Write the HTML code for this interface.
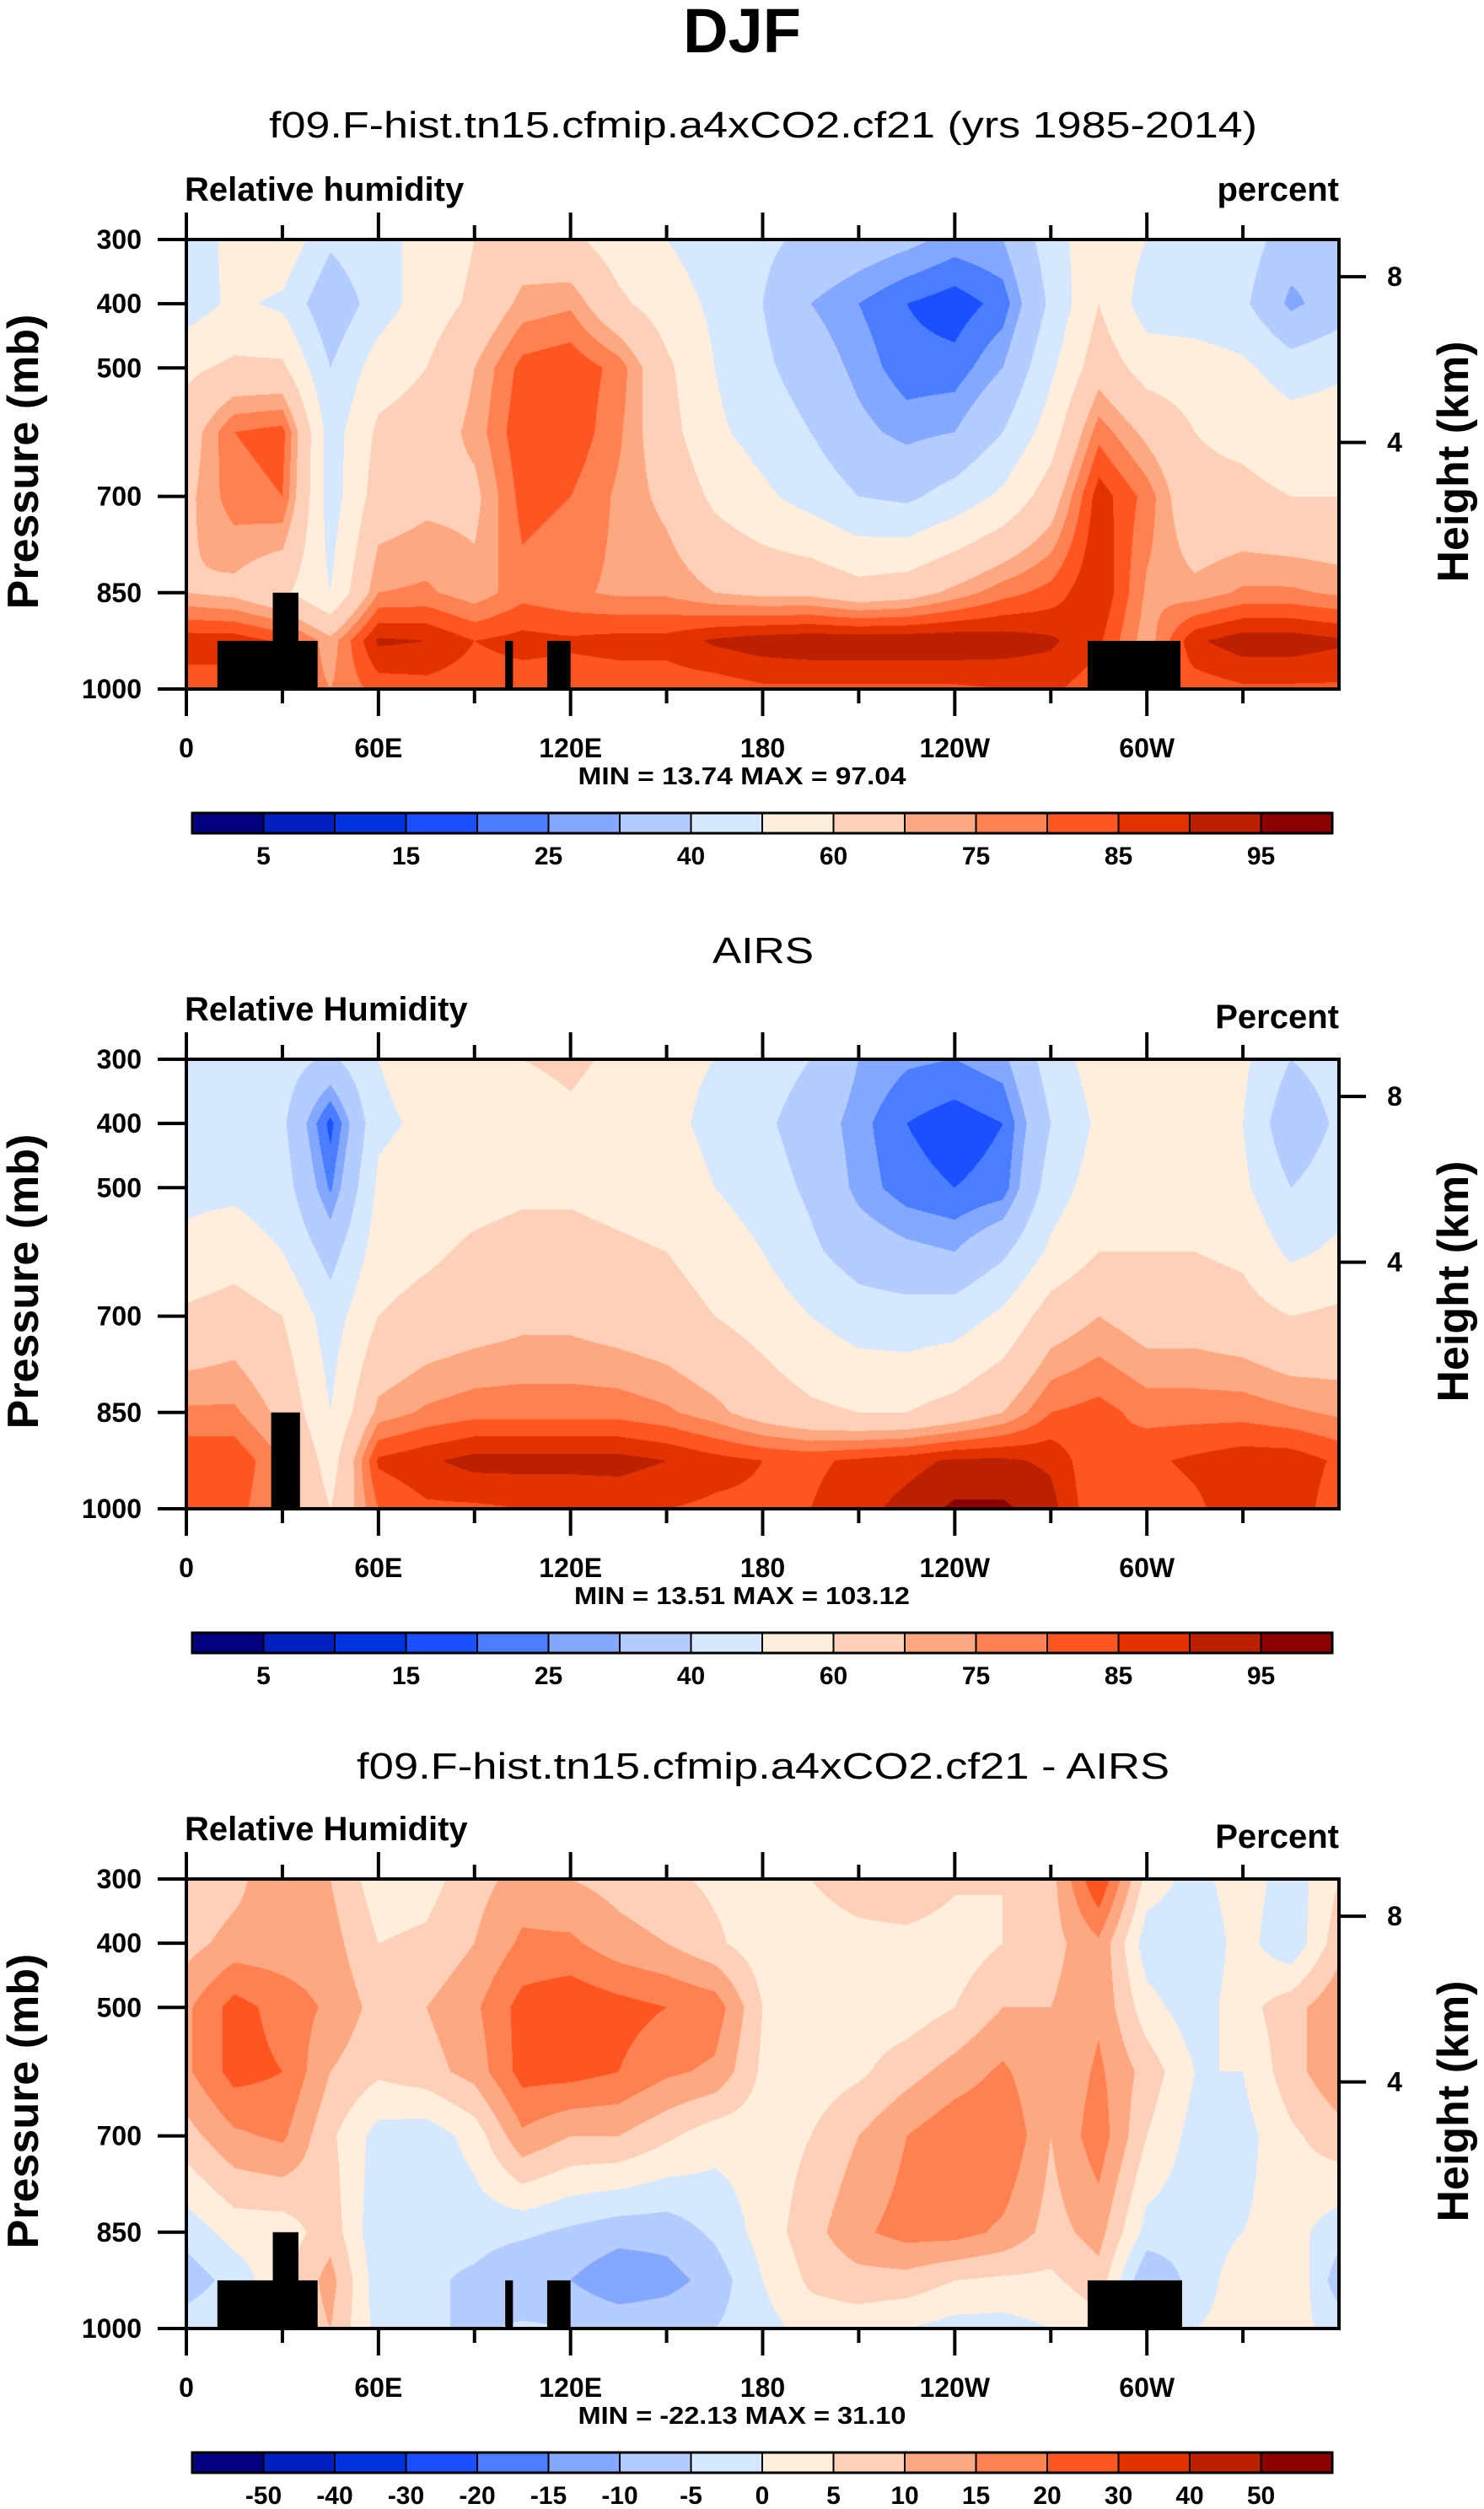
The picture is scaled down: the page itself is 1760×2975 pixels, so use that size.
<!DOCTYPE html>
<html><head><meta charset="utf-8">
<style>
html,body{margin:0;padding:0;background:#fff;}
#wrap{position:relative;width:1760px;height:2975px;overflow:hidden;background:#fff;}
canvas{position:absolute;}
svg{position:absolute;left:0;top:0;}
text{font-family:"Liberation Sans",sans-serif;fill:#000;}
</style></head>
<body>
<div id="wrap">
<svg id="svg" width="1760" height="2975"></svg>
</div>
<script>
// ---- data ----
const lons = [0,15,30,45,60,75,90,105,120,135,150,165,180,195,210,225,240,255,270,285,300,315,330,345,360];
const pLevels = [300,400,500,600,700,850,925,1000];
const modelRH = [
[40,45,58,65,68,70,88,82],[55,52,62,80,78,68,88,82],[58,48,62,82,80,62,84,80],[42,32,40,45,45,50,72,75],
[48,45,55,62,65,75,91,82],[52,55,60,65,68,76,90,83],[60,62,70,72,68,72,85,82],[65,72,82,84,82,78,87,82],
[62,74,84,84,80,76,86,82],[55,62,78,76,74,74,87,82],[50,55,62,64,68,74,87,82],[45,48,50,52,58,70,91,82],
[42,40,42,46,52,68,93,84],[38,30,35,40,46,68,94,84],[35,25,28,32,40,64,94,84],[32,20,22,28,38,66,94,84],
[28,17,22,30,44,72,94,84],[30,22,30,40,52,78,93,85],[45,42,48,55,65,82,91,86],[58,60,66,78,88,90,86,82],
[50,45,56,68,78,74,72,82],[48,44,55,60,62,72,89,82],[45,42,52,58,62,76,93,84],[35,28,45,55,60,76,93,84],
[30,35,48,56,60,74,91,84]];
const airsRH = [
[45,45,48,52,62,76,84,82],[45,45,48,55,65,76,84,82],[45,42,45,50,60,68,75,75],[38,18,24,36,45,50,55,60],
[50,48,52,55,60,72,86,80],[55,52,55,58,64,76,89,84],[58,55,56,62,66,78,92,84],[60,55,58,64,68,78,92,85],
[62,58,58,64,68,78,92,85],[58,55,56,62,66,78,92,86],[52,52,54,60,64,76,90,85],[50,48,50,56,60,72,87,84],
[45,42,45,50,56,66,85,84],[40,35,38,42,50,62,84,85],[30,27,28,35,45,60,86,88],[26,20,22,32,44,60,88,92],
[25,17,20,30,45,64,91,96],[28,20,22,38,52,70,91,96],[45,40,45,52,65,80,89,92],[55,52,55,60,70,82,80,80],
[50,50,55,60,66,78,84,82],[55,52,55,60,66,78,86,84],[52,50,52,58,64,78,88,88],[40,32,40,48,60,76,88,88],
[45,42,46,52,62,74,84,82]];
const diffRH = [
[5,8,14,14,8,-3,-8,-2],[8,12,22,22,14,2,-3,0],[15,12,18,20,16,2,4,5],[10,12,14,10,6,8,12,10],
[2,5,8,6,-2,-4,-3,-2],[3,6,10,8,-3,-4,-4,-4],[8,10,14,12,2,-3,-6,-6],[12,16,22,22,14,-4,-10,-4],
[10,16,24,22,10,-6,-10,-5],[8,12,22,20,10,-8,-14,-6],[6,10,20,16,6,-8,-12,-6],[4,6,18,14,2,-4,-8,-5],
[3,2,5,4,2,2,0,-2],[5,2,0,2,5,8,6,2],[8,3,2,4,10,14,8,2],[10,3,2,8,15,17,8,0],
[6,2,5,12,19,17,5,-2],[5,5,10,16,20,14,4,-2],[8,8,10,10,10,8,4,0],[25,14,14,16,18,12,8,3],
[3,-3,2,8,5,-2,-10,0],[-2,-4,-3,0,-2,-3,-3,0],[3,2,3,0,-2,0,3,2],[-3,-4,8,8,4,2,5,2],
[5,8,14,14,8,-3,-8,-2]];
const rhLevels = [5,10,15,20,25,30,40,50,60,70,75,80,85,90,95];
const rhLabels = ["5","15","25","40","60","75","85","95"];
const diffLevels = [-50,-40,-30,-20,-15,-10,-5,0,5,10,15,20,30,40,50];
const diffLabels = ["-50","-40","-30","-20","-15","-10","-5","0","5","10","15","20","30","40","50"];
const colors = ["#000080","#0020c0","#0033e0","#1a50ff","#4a7dff","#85a8ff","#b4ccff","#d6e8ff","#ffeedc","#fed0b8","#fea882","#ff8050","#ff5520","#e33200","#bb2000","#8b0000"];
const masks1 = [[9.7,41,925],[27,35,850],[99.6,102,925],[112.7,120,925],[281.5,310.5,925]];
const masks2 = [[26.5,35.5,850]];
const masks3 = [[9.7,41,925],[27,35,850],[99.6,102,925],[112.7,120,925],[281.5,311,925]];
const xTickVals = [0,60,120,180,240,300];
const xTickLabels = ["0","60E","120E","180","120W","60W"];
const yTickVals = [300,400,500,700,850,1000];
const hTickVals = [8,4];
const hTickP = [358,616];

// ---- layout ----
const L=221,R=1588,T0=284,H=533,DY=972;
const svg=document.getElementById('svg');
const NS="http://www.w3.org/2000/svg";
function mk(tag,attrs,parent){const e=document.createElementNS(NS,tag);for(const k in attrs)e.setAttribute(k,attrs[k]);(parent||svg).appendChild(e);return e;}
function txt(s,x,y,size,weight,anchor,parent,len){const e=mk('text',{x:x,y:y,'font-size':size,'font-weight':weight||'normal','text-anchor':anchor||'start'},parent);if(len){e.setAttribute('textLength',len);e.setAttribute('lengthAdjust','spacingAndGlyphs');}e.textContent=s;return e;}
const xS=lon=>L+(lon/360)*(R-L);
function yS(top){return p=>top+(p-300)/700*H;}

function valueAt(grid,lon,p){
  let i=Math.floor(lon/15); if(i>=lons.length-1)i=lons.length-2; const fx=(lon-lons[i])/15;
  let j=0; while(j<pLevels.length-2&&p>pLevels[j+1])j++;
  const fy=(p-pLevels[j])/(pLevels[j+1]-pLevels[j]);
  const a=grid[i][j],b=grid[i+1][j],c=grid[i][j+1],d=grid[i+1][j+1];
  return (a*(1-fx)+b*fx)*(1-fy)+(c*(1-fx)+d*fx)*fy;
}
function hex(c){return [parseInt(c.substr(1,2),16),parseInt(c.substr(3,2),16),parseInt(c.substr(5,2),16)];}
const rgb=colors.map(hex);
function colorIdx(v,lev){let k=0;while(k<lev.length&&v>=lev[k])k++;return k;}

function drawField(grid,lev,top,name){
  const cv=document.createElement('canvas');
  cv.width=R-L;cv.height=H;cv.style.left=L+'px';cv.style.top=top+'px';
  
  
  document.getElementById('wrap').insertBefore(cv,svg);
  const ctx=cv.getContext('2d');const img=ctx.createImageData(cv.width,cv.height);
  for(let y=0;y<cv.height;y++){const p=300+(y+0.5)/H*700;
    for(let x=0;x<cv.width;x++){const lon=(x+0.5)/(R-L)*360;
      const c=rgb[colorIdx(valueAt(grid,lon,p),lev)];const o=(y*cv.width+x)*4;
      img.data[o]=c[0];img.data[o+1]=c[1];img.data[o+2]=c[2];img.data[o+3]=255;}}
  ctx.putImageData(img,0,0);
}

function panel(k,grid,lev,labels,masks,title,lt,rt,minmax,titleLen,mmLen,titleDy){
  const top=T0+k*DY, y=yS(top);
  const g=mk('g',{});
  drawField(grid,lev,top,'contour-field-'+(k+1));
  const t=txt(title,905,top-titleDy,44,'normal','middle',g,titleLen);
  
  const a=txt(lt,L-2,top-46,40,'bold','start',g);
  const b=txt(rt,R,top-(k==0?46:37),40,'bold','end',g);
  for(const m of masks){const r=mk('rect',{x:xS(m[0]),y:y(m[2]),width:xS(m[1])-xS(m[0]),height:top+H-y(m[2]),fill:'#000'},g);
    }
  const box=mk('rect',{x:L,y:top,width:R-L,height:H,fill:'none',stroke:'#000','stroke-width':4},g);
  
  for(let lon=0;lon<360;lon+=30){const major=lon%60==0,len=major?32:17;
    mk('line',{x1:xS(lon),x2:xS(lon),y1:top+H,y2:top+H+len,stroke:'#000','stroke-width':4},g);
    mk('line',{x1:xS(lon),x2:xS(lon),y1:top,y2:top-len,stroke:'#000','stroke-width':4},g);}
  xTickVals.forEach((v,i)=>{const e=txt(xTickLabels[i],xS(v),top+H+81,32,'bold','middle',g);
    });
  yTickVals.forEach(v=>{mk('line',{x1:L-34,x2:L,y1:y(v),y2:y(v),stroke:'#000','stroke-width':4},g);
    const e=txt(String(v),168,y(v)+11,32,'bold','end',g);});
  hTickVals.forEach((v,i)=>{mk('line',{x1:R,x2:R+32,y1:y(hTickP[i]),y2:y(hTickP[i]),stroke:'#000','stroke-width':4},g);
    const e=txt(String(v),1654,y(hTickP[i])+11,32,'bold','middle',g);});
  const yt=txt('Pressure (mb)',0,0,52,'bold','middle',g);yt.setAttribute('transform','translate(45,'+(top+H/2-3)+') rotate(-90)');
  
  const ht=txt('Height (km)',0,0,52,'bold','middle',g);ht.setAttribute('transform','translate(1741,'+(top+H/2-3)+') rotate(-90)');
  
  const mm=txt(minmax,880,top+H+113,29,'bold','middle',g,mmLen);
  const cbT=top+680,cbL=228,cbR=1580,cbH=24,n=lev.length+1,w=(cbR-cbL)/n;
  const cb=mk('g',{},g);
  for(let i=0;i<n;i++){const r=mk('rect',{x:cbL+i*w,y:cbT,width:w,height:cbH,fill:colors[i],stroke:'#000','stroke-width':2},cb);
    }
  mk('rect',{x:cbL,y:cbT,width:cbR-cbL,height:cbH,fill:'none',stroke:'#000','stroke-width':3},cb);
  const step=lev.length/labels.length>1.5?2:1;
  labels.forEach((s,i)=>{const bi=step==2?(2*i+1):(i+1);const e=txt(s,cbL+bi*w,cbT+61,30,'bold','middle',cb);
    });
}
const tt=txt('DJF',880,62,74,'bold','middle');
panel(0,modelRH,rhLevels,rhLabels,masks1,'f09.F-hist.tn15.cfmip.a4xCO2.cf21 (yrs 1985-2014)','Relative humidity','percent','MIN = 13.74  MAX = 97.04',1172,389,121);
panel(1,airsRH,rhLevels,rhLabels,masks2,'AIRS','Relative Humidity','Percent','MIN = 13.51  MAX = 103.12',120,398,114);
panel(2,diffRH,diffLevels,diffLabels,masks3,'f09.F-hist.tn15.cfmip.a4xCO2.cf21 - AIRS','Relative Humidity','Percent','MIN = -22.13  MAX = 31.10',964,389,119);
</script>
</body></html>
